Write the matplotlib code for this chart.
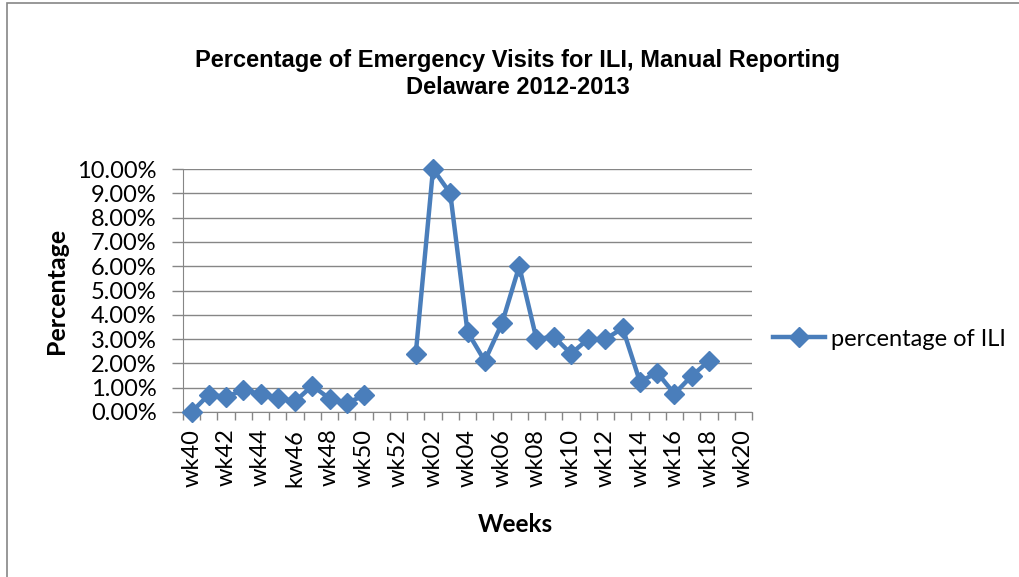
import numpy as np
import matplotlib
matplotlib.use("Agg")
from matplotlib import pyplot as plt
from matplotlib.patches import Rectangle
from matplotlib.ticker import FuncFormatter, MultipleLocator, FixedLocator

# weeks of the 2012-2013 season (wk01 sits between wk52 and wk02)
weeks = ["wk40", "wk41", "wk42", "wk43", "wk44", "wk45", "kw46", "wk47", "wk48",
         "wk49", "wk50", "wk51", "wk52", "wk01", "wk02", "wk03", "wk04", "wk05",
         "wk06", "wk07", "wk08", "wk09", "wk10", "wk11", "wk12", "wk13", "wk14",
         "wk15", "wk16", "wk17", "wk18", "wk19", "wk20"]
# percent of emergency visits for ILI (nan = not reported)
pct_ili = [0.00, 0.72, 0.62, 0.91, 0.74, 0.58, 0.44, 1.08, 0.55,
           0.37, 0.68, np.nan, np.nan, 2.40, 10.00, 9.00, 3.30, 2.10,
           3.65, 6.00, 3.00, 3.10, 2.40, 3.00, 3.00, 3.45, 1.25,
           1.62, 0.75, 1.48, 2.10, np.nan, np.nan]

blue = "#4A7EBB"
grey = "#868686"
plt.rcParams["font.family"] = ["Lato", "DejaVu Sans"]

fig = plt.figure(figsize=(10.2, 5.77), dpi=100)
ax = fig.add_axes([183 / 1020, 1 - 412 / 577, (752 - 183) / 1020, (412 - 169) / 577])

x = np.arange(len(weeks))
ax.plot(x, pct_ili, color=blue, lw=3.2, marker="D", ms=10, mfc=blue, mec=blue,
        label="percentage of ILI", clip_on=False, zorder=3)

ax.set_xlim(-0.5, len(weeks) - 0.5)
ax.set_ylim(0, 10)
ax.yaxis.set_major_locator(MultipleLocator(1))
ax.yaxis.set_major_formatter(FuncFormatter(lambda v, p: "%.2f%%" % v))
ax.grid(axis="y", color=grey, lw=1.0)
ax.set_axisbelow(True)

ax.set_xticks(x[::2])
ax.set_xticklabels(weeks[::2], rotation=90)
ax.xaxis.set_minor_locator(FixedLocator(np.arange(-0.5, len(weeks), 1)))
ax.tick_params(axis="x", which="major", length=0, pad=12, labelsize=17)
ax.tick_params(axis="x", which="minor", length=6, color=grey, width=1)
ax.tick_params(axis="y", length=8, color=grey, width=1, labelsize=17, pad=11)

for s in ["top", "right"]:
    ax.spines[s].set_visible(False)
for s in ["left", "bottom"]:
    ax.spines[s].set_color(grey)

ax.set_ylabel("Percentage", fontsize=18, fontweight="bold")
ax.yaxis.set_label_coords(-(183 - 68) / 569, 0.5)
ax.set_xlabel("Weeks", fontsize=17.5, fontweight="bold")
ax.xaxis.set_label_coords((515 - 183) / 569, -(513 - 412) / 243)

fig.text(518 / 1020, 1 - 74 / 577,
         "Percentage of Emergency Visits for ILI, Manual Reporting\nDelaware 2012-2013",
         ha="center", va="center", fontsize=17, fontweight="bold",
         family="Liberation Sans", linespacing=1.25)

ax.legend(loc="center left", bbox_to_anchor=(1.0, 0.3), frameon=False,
          fontsize=17, handlelength=2.2, handletextpad=0.25, borderaxespad=0.5)

fig.patches.append(Rectangle((7 / 1020, -0.1), 1.1, 1 - 3 / 577 + 0.1,
                             transform=fig.transFigure, fill=False,
                             edgecolor=grey, lw=1.2))

fig.savefig("out.png", dpi=100)
